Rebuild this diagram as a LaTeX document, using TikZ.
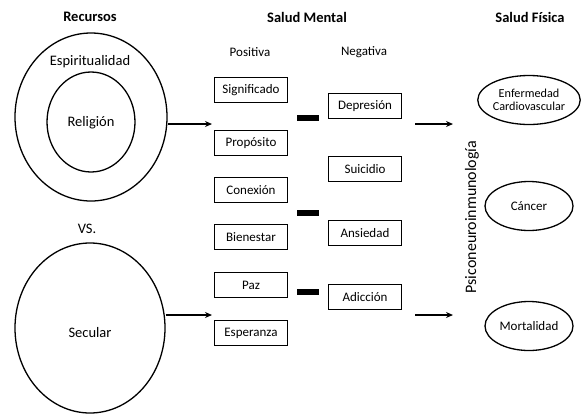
\documentclass[tikz,border=0pt]{standalone}
\usepackage{fontspec}
\setmainfont{Carlito}
\usetikzlibrary{shapes.geometric,arrows.meta}
\tikzset{
  titulo/.style={font=\fontsize{14.5}{16}\selectfont\bfseries},
  texto/.style={font=\fontsize{13}{15}\selectfont},
  grande/.style={font=\fontsize{14.5}{16}\selectfont},
  caja/.style={draw,line width=1.8pt,minimum width=73pt,minimum height=25pt,inner sep=0pt,texto},
  elipse/.style={draw,ellipse,line width=1.3pt,minimum width=88pt,minimum height=49pt,inner sep=0pt,texto},
  circulo/.style={draw,ellipse,line width=1.3pt,inner sep=0pt},
  menos/.style={fill=black,minimum width=22pt,minimum height=6pt,inner sep=0pt},
  flecha/.style={line width=1.4pt,-{Stealth[length=7pt,width=6pt]}}
}
\begin{document}
\begin{tikzpicture}[x=1pt,y=-1pt]
\useasboundingbox (0,0) rectangle (582,416);
% titulos
\node[titulo] (trec) at (90,17) {Recursos};
\node[titulo] (tmen) at (307,17) {Salud Mental};
\node[titulo] (tfis) at (530,17) {Salud Física};
\node[texto] (tpos) at (250,52) {Positiva};
\node[texto] (tneg) at (364,52) {Negativa};
% recursos
\node[circulo,minimum width=152pt,minimum height=168pt] (esp) at (91,117) {};
\node[circulo,minimum width=88pt,minimum height=100pt] (rel) at (91,122) {};
\node[grande] (tesp) at (90,62) {Espiritualidad};
\node[grande] (trel) at (91,123) {Religión};
\node[grande] (vs) at (87,229) {VS.};
\node[circulo,minimum width=150pt,minimum height=170pt] (sec) at (90,328) {};
\node[grande] (tsec) at (90,333) {Secular};
% positiva
\node[caja] (sig) at (251,90) {Significado};
\node[caja] (pro) at (251,143) {Propósito};
\node[caja] (con) at (251,190) {Conexión};
\node[caja] (bie) at (251,237) {Bienestar};
\node[caja] (paz) at (251,285) {Paz};
\node[caja] (esa) at (251,333) {Esperanza};
% negativa
\node[caja] (dep) at (365,106) {Depresión};
\node[caja] (sui) at (365,169) {Suicidio};
\node[caja] (ans) at (365,233) {Ansiedad};
\node[caja] (adi) at (365,297) {Adicción};
\node[menos] (m1) at (308,118) {};
\node[menos] (m2) at (308,213) {};
\node[menos] (m3) at (308,292) {};
% salud fisica
\node[rotate=90,font=\fontsize{16}{18}\selectfont] (psi) at (472,217) {Psiconeuroinmunología};
\node[elipse,align=center,font=\fontsize{12.2}{12.5}\selectfont] (car) at (529,100) {Enfermedad\\Cardiovascular};
\node[elipse] (can) at (529,206) {Cáncer};
\node[elipse] (mor) at (529,326) {Mortalidad};
% flechas
\coordinate (e1) at (212,124);
\coordinate (e2) at (212,315);
\coordinate (s1) at (415,124);
\coordinate (s2) at (415,315);
\coordinate (f1) at (453,124);
\coordinate (f2) at (453,315);
\draw[flecha] (esp.east |- e1) -- (e1);
\draw[flecha] (sec.east |- e2) -- (e2);
\draw[flecha] (s1) -- (f1);
\draw[flecha] (s2) -- (f2);
\end{tikzpicture}
\end{document}
